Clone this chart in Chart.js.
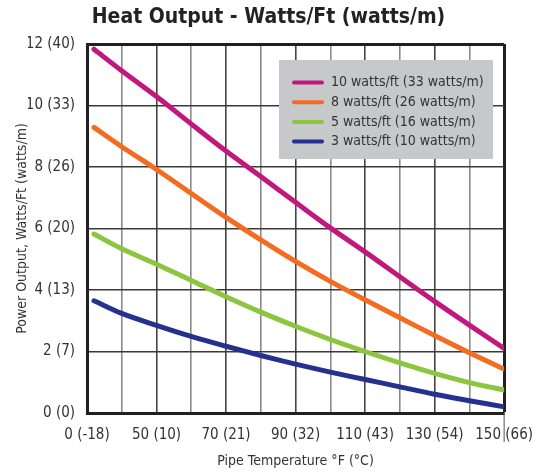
<!DOCTYPE html>
<html>
<head>
<meta charset="utf-8">
<script src="https://cdn.jsdelivr.net/npm/chart.js@4.4.1/dist/chart.umd.min.js"></script>
<style>
html,body{margin:0;padding:0;background:#fff;}
#wrap{width:546px;height:473px;position:relative;}
</style>
</head>
<body>
<div id="wrap"><canvas id="chart"></canvas></div>
<script>
// pipe temperature (deg F) at each reading
const temps = [32, 40, 50, 60, 70, 80, 90, 100, 110, 120, 130, 140, 150];

// power output, watts/ft
const w10 = [11.83, 11.13, 10.29, 9.40, 8.52, 7.69, 6.85, 6.02, 5.24, 4.43, 3.63, 2.86, 2.10];
const w8  = [9.29, 8.66, 7.92, 7.14, 6.36, 5.63, 4.93, 4.28, 3.68, 3.10, 2.52, 1.96, 1.43];
const w5  = [5.82, 5.34, 4.84, 4.31, 3.78, 3.28, 2.82, 2.39, 2.00, 1.63, 1.29, 0.99, 0.75];
const w3  = [3.65, 3.24, 2.85, 2.49, 2.17, 1.87, 1.59, 1.33, 1.09, 0.85, 0.61, 0.40, 0.20];

const seriesNames = ["10 watts/ft (33 watts/m)", "8 watts/ft (26 watts/m)", "5 watts/ft (16 watts/m)", "3 watts/ft (10 watts/m)"];
const seriesColors = ["#c2187e", "#f36c21", "#8cc63e", "#25318f"];

// tick labels
const xTickValues = [30, 50, 70, 90, 110, 130, 150];
const xTickLabels = ["0 (-18)", "50 (10)", "70 (21)", "90 (32)", "110 (43)", "130 (54)", "150 (66)"];
const yTickLabels = ["0 (0)", "2 (7)", "4 (13)", "6 (20)", "8 (26)", "10 (33)", "12 (40)"];

const FONT = '"Liberation Sans Narrow", "DejaVu Sans Condensed", Roboto, sans-serif';

const ctx = document.querySelector("#chart");

// legend drawn as grey box inside plot
const legendBox = {
    id: "legendBox",
    afterDatasetsDraw(chart){
        const c = chart.ctx, a = chart.chartArea;
        const x = a.left + 192, y = a.top + 16, w = 214, h = 99;
        c.save();
        c.fillStyle = "#c7c8ca";
        c.fillRect(x, y, w, h);
        c.font = "14px " + FONT;
        c.textBaseline = "middle";
        chart.data.datasets.forEach((ds, i) => {
            const ly = y + 22.5 + i * 19.7;
            c.strokeStyle = ds.borderColor;
            c.lineWidth = 4;
            c.lineCap = "round";
            c.beginPath();
            c.moveTo(x + 15, ly);
            c.lineTo(x + 43, ly);
            c.stroke();
            c.fillStyle = "#333";
            c.fillText(ds.label, x + 52, ly);
        });
        c.restore();
    }
};

// little tick under the last x grid line, as in the original
const lastTick = {
    id: "lastTick",
    afterDraw(chart){
        const c = chart.ctx, a = chart.chartArea;
        const x = chart.scales.x.getPixelForValue(150);
        c.save();
        c.strokeStyle = "#555";
        c.lineWidth = 1;
        c.beginPath();
        c.moveTo(x, a.bottom);
        c.lineTo(x, a.bottom + 29);
        c.stroke();
        c.restore();
    }
};

const datasets = [w10, w8, w5, w3].map((vals, i) => ({
    label: seriesNames[i],
    data: vals.map((v, j) => ({x: temps[j], y: v})),
    borderColor: seriesColors[i],
    backgroundColor: seriesColors[i],
    borderWidth: 5,
    borderCapStyle: "round",
    pointRadius: 0,
    tension: 0.35,
    fill: false
}));

const configChart = {
    type: "line",
    data: {datasets: datasets},
    options: {
        responsive: true,
        maintainAspectRatio: false,
        animation: false,
        layout: {padding: {left: 28, right: 37, top: 0, bottom: 0}},
        scales: {
            x: {
                type: "linear",
                min: 30,
                max: 150,
                afterFit(scale){ scale.height = 60; },
                afterBuildTicks(scale){
                    const t = [];
                    for(let v = 30; v <= 150; v += 10) t.push({value: v});
                    scale.ticks = t;
                },
                ticks: {
                    autoSkip: false,
                    maxRotation: 0,
                    padding: 13,
                    color: "#333",
                    font: {family: FONT, size: 15},
                    callback: v => {
                        const k = xTickValues.indexOf(v);
                        return k >= 0 ? xTickLabels[k] : "";
                    }
                },
                grid: {
                    drawTicks: false,
                    color: c => c.tick && c.tick.value === 150 ? "#231f20" : (c.tick && c.tick.value % 20 === 10 ? "#444" : "#8a8a8a"),
                    lineWidth: c => c.tick && c.tick.value === 150 ? 3 : 1.6
                },
                border: {color: "#231f20", width: 3},
                title: {
                    display: true,
                    text: "Pipe Temperature °F (°C)",
                    color: "#333",
                    font: {family: FONT, size: 14},
                    padding: {top: 0, bottom: 3}
                }
            },
            y: {
                min: 0,
                max: 12,
                afterFit(scale){ scale.width = 59; },
                ticks: {
                    stepSize: 2,
                    padding: 12,
                    color: "#333",
                    font: {family: FONT, size: 15},
                    callback: v => yTickLabels[v / 2]
                },
                grid: {
                    drawTicks: false,
                    color: c => c.tick && c.tick.value === 12 ? "#231f20" : "#3a3a3a",
                    lineWidth: c => c.tick && c.tick.value === 12 ? 3 : 1.5
                },
                border: {color: "#231f20", width: 3},
                title: {
                    display: true,
                    text: "Power Output, Watts/Ft (watts/m)",
                    color: "#333",
                    font: {family: FONT, size: 14},
                    padding: {top: -14, bottom: 0}
                }
            }
        },
        plugins: {
            legend: {display: false},
            tooltip: {enabled: false},
            title: {
                display: true,
                text: "Heat Output - Watts/Ft (watts/m)",
                color: "#222",
                font: {family: FONT, size: 21, weight: "bold"},
                padding: {top: 5, bottom: 13.8}
            }
        }
    },
    plugins: [legendBox, lastTick]
};

const chart = new Chart(ctx, configChart);
</script>
</body>
</html>
